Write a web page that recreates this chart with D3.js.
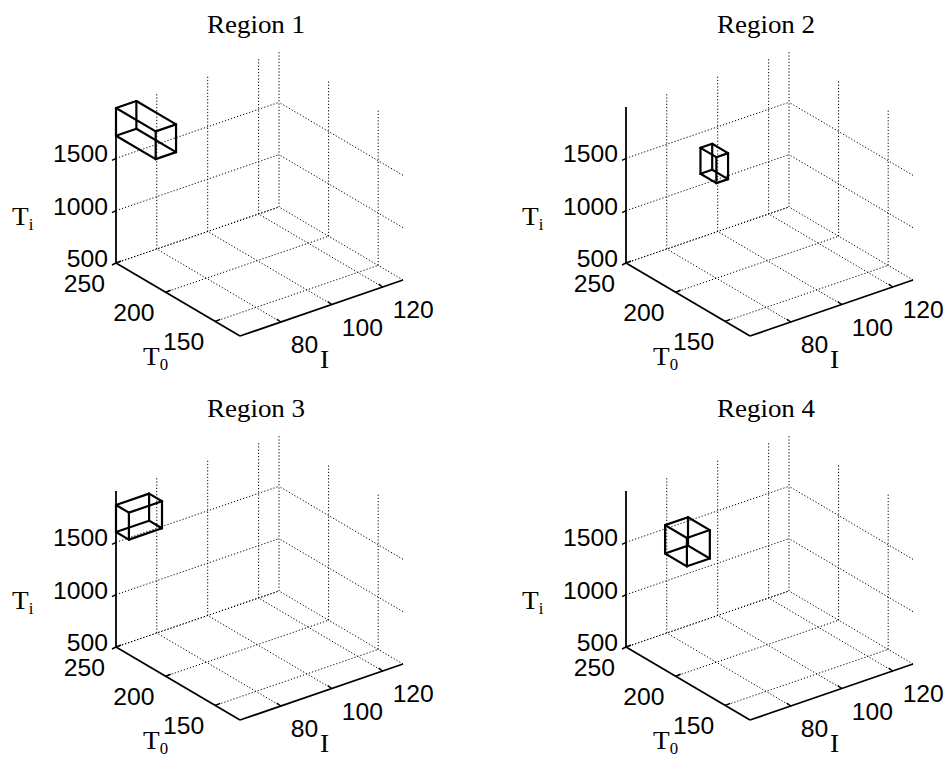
<!DOCTYPE html>
<html>
<head>
<meta charset="utf-8">
<script src="https://cdn.jsdelivr.net/npm/d3@7/dist/d3.min.js"></script>
<style>
body { margin: 0; background: #fff; }
.grid { fill: none; stroke: #000; stroke-width: 1; stroke-dasharray: 1.2,2; }
.axis-line { fill: none; stroke: #000; stroke-width: 1.8; }
.tick-mark { fill: none; stroke: #000; stroke-width: 1.5; }
.box-edge { fill: none; stroke: #000; stroke-width: 2.2; stroke-linecap: round; }
.tick-label { font-family: "Liberation Sans", Arial, sans-serif; font-size: 24px; fill: #000; }
.title, .axis-label { font-family: "Liberation Serif", "Times New Roman", serif; fill: #000; }
</style>
</head>
<body>
<div id="chart"></div>
<script>

// region boxes: [min, max] on each axis
var regionNames = ["Region 1", "Region 2", "Region 3", "Region 4"];
var boxI  = [[64, 72], [80, 84.6], [64, 77], [70, 79]];
var boxT0 = [[210, 250], [200, 216], [237, 250], [204, 226]];
var boxTi = [[1715, 1980], [1408, 1656], [1598, 1856], [1477, 1748]];

// axes
var iDomain = [64, 128], t0Domain = [125, 250], tiDomain = [500, 1990];
var iTicks = [80, 100, 120], t0Ticks = [150, 200, 250], tiTicks = [500, 1000, 1500];

var width = 949, height = 765;

var svg = d3.select("#chart").append("svg")
    .attr("width", width)
    .attr("height", height);

// normalised scales, one per axis
var sI = d3.scaleLinear().domain(iDomain).range([0, 1]);
var sT0 = d3.scaleLinear().domain(t0Domain).range([0, 1]);
var sTi = d3.scaleLinear().domain(tiDomain).range([0, 1]);

// screen vectors of the full axis ranges (view from az/el)
var vecI = [163, -56], vecT0 = [-124, -73], vecTi = [0, -156];

var panels = [
    {ox: 240, oy: 336},
    {ox: 750, oy: 336},
    {ox: 240, oy: 720},
    {ox: 750, oy: 720}
];

function project(p, i, t0, ti) {
    var a = sI(i), b = sT0(t0), c = sTi(ti);
    return [p.ox + a * vecI[0] + b * vecT0[0] + c * vecTi[0],
            p.oy + a * vecI[1] + b * vecT0[1] + c * vecTi[1]];
}

// the scanned figure is a bit wider than tall
function stretch(x, y, s) {
    return "translate(" + x + "," + y + ") scale(" + s + ",1)";
}

var line = d3.line();

panels.forEach(function(p, k) {

    var g = svg.append("g");
    var iMin = iDomain[0], iMax = iDomain[1],
        tMin = t0Domain[0], tMax = t0Domain[1],
        zMin = tiDomain[0], zMax = tiDomain[1];

    var gridSegs = [];
    // floor
    iTicks.forEach(function(v) {
        gridSegs.push([project(p, v, tMin, zMin), project(p, v, tMax, zMin)]);
    });
    t0Ticks.forEach(function(v) {
        gridSegs.push([project(p, iMin, v, zMin), project(p, iMax, v, zMin)]);
    });
    // back wall T0 = max
    iTicks.forEach(function(v) {
        gridSegs.push([project(p, v, tMax, zMin), project(p, v, tMax, zMax)]);
    });
    tiTicks.forEach(function(v) {
        gridSegs.push([project(p, iMin, tMax, v), project(p, iMax, tMax, v)]);
    });
    // side wall I = max
    t0Ticks.forEach(function(v) {
        gridSegs.push([project(p, iMax, v, zMin), project(p, iMax, v, zMax)]);
    });
    tiTicks.forEach(function(v) {
        gridSegs.push([project(p, iMax, tMin, v), project(p, iMax, tMax, v)]);
    });

    g.selectAll(".grid")
        .data(gridSegs)
        .enter()
        .append("path")
        .attr("class", "grid")
        .attr("d", line);

    // axis lines
    var axisSegs = [
        [project(p, iMin, tMax, zMin), project(p, iMin, tMax, zMax)],
        [project(p, iMin, tMax, zMin), project(p, iMin, tMin, zMin)],
        [project(p, iMin, tMin, zMin), project(p, iMax, tMin, zMin)]
    ];
    g.selectAll(".axis-line")
        .data(axisSegs)
        .enter()
        .append("path")
        .attr("class", "axis-line")
        .attr("d", line);

    // tick marks
    var tickSegs = [];
    tiTicks.forEach(function(v) {
        var q = project(p, iMin, tMax, v);
        tickSegs.push([q, [q[0] - 4, q[1] + 2]]);
    });
    t0Ticks.forEach(function(v) {
        var q = project(p, iMin, v, zMin);
        tickSegs.push([q, [q[0] + 5, q[1] - 2]]);
    });
    iTicks.forEach(function(v) {
        var q = project(p, v, tMin, zMin);
        tickSegs.push([q, [q[0] - 4, q[1] - 3]]);
    });
    g.selectAll(".tick-mark")
        .data(tickSegs)
        .enter()
        .append("path")
        .attr("class", "tick-mark")
        .attr("d", line);

    // tick labels
    g.selectAll(".ti-label")
        .data(tiTicks)
        .enter()
        .append("text")
        .attr("class", "tick-label")
        .attr("text-anchor", "end")
        .attr("transform", function(d) {
            var q = project(p, iMin, tMax, d);
            return stretch(q[0] - 8, q[1] + 4, 1.03);
        })
        .text(function(d) { return d; });

    g.selectAll(".t0-label")
        .data(t0Ticks)
        .enter()
        .append("text")
        .attr("class", "tick-label")
        .attr("text-anchor", "end")
        .attr("transform", function(d) {
            var q = project(p, iMin, d, zMin);
            return stretch(q[0] - 11, q[1] + 29, 1.03);
        })
        .text(function(d) { return d; });

    g.selectAll(".i-label")
        .data(iTicks)
        .enter()
        .append("text")
        .attr("class", "tick-label")
        .attr("text-anchor", "start")
        .attr("transform", function(d) {
            var q = project(p, d, tMin, zMin);
            return stretch(q[0] + 10, q[1] + 31, 1.03);
        })
        .text(function(d) { return d; });

    // axis titles
    var corner = project(p, iMin, tMin, zMin);
    var zMid = project(p, iMin, tMax, 1000);

    var tiText = g.append("text")
        .attr("class", "axis-label")
        .attr("transform", stretch(zMid[0] - 104, zMid[1] + 14, 1.05))
        .style("font-size", "26px")
        .text("T");
    tiText.append("tspan").attr("dy", 5).style("font-size", "16px").text("i");

    var t0Text = g.append("text")
        .attr("class", "axis-label")
        .attr("transform", stretch(corner[0] - 97, corner[1] + 29, 1.05))
        .style("font-size", "26px")
        .text("T");
    t0Text.append("tspan").attr("dy", 5).style("font-size", "16px").text("0");

    g.append("text")
        .attr("class", "axis-label")
        .attr("transform", stretch(corner[0] + 80, corner[1] + 32, 1.05))
        .style("font-size", "26px")
        .text("I");

    // title
    g.append("text")
        .attr("class", "title")
        .attr("text-anchor", "middle")
        .attr("transform", stretch(p.ox + 16, p.oy - 303, 1.08))
        .style("font-size", "25px")
        .text(regionNames[k]);

    // region box wireframe
    var bi = boxI[k], bt = boxT0[k], bz = boxTi[k];
    var edges = [];
    [0, 1].forEach(function(a) {
        [0, 1].forEach(function(b) {
            edges.push([project(p, bi[0], bt[a], bz[b]), project(p, bi[1], bt[a], bz[b])]);
            edges.push([project(p, bi[a], bt[0], bz[b]), project(p, bi[a], bt[1], bz[b])]);
            edges.push([project(p, bi[a], bt[b], bz[0]), project(p, bi[a], bt[b], bz[1])]);
        });
    });
    g.selectAll(".box-edge")
        .data(edges)
        .enter()
        .append("path")
        .attr("class", "box-edge")
        .attr("d", line);
});

</script>
</body>
</html>
